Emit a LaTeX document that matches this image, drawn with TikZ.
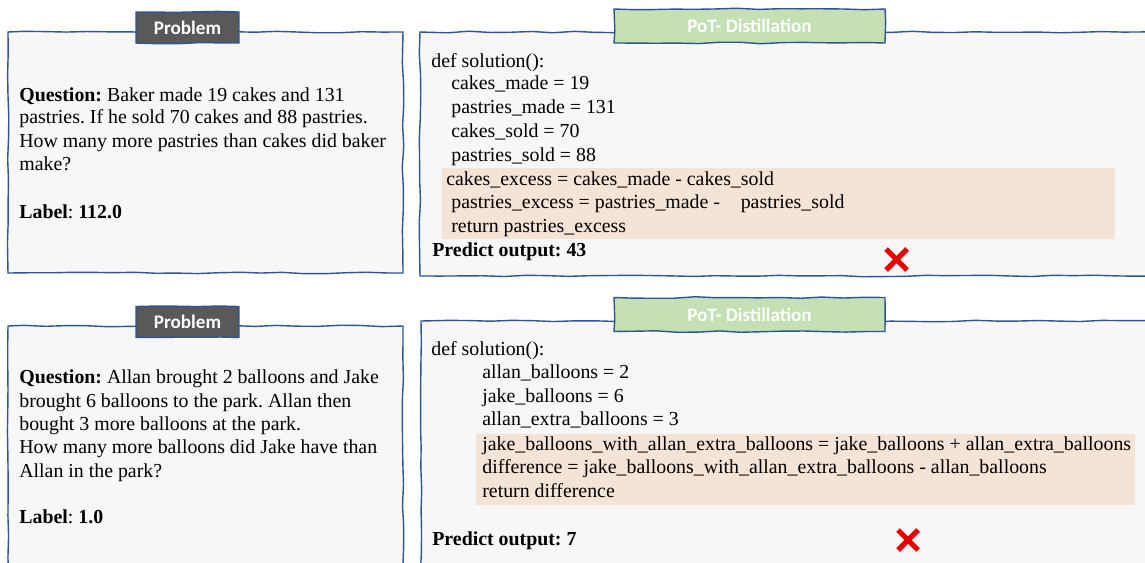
\documentclass[tikz,border=0pt]{standalone}
\usepackage{fontspec}
\setmainfont{Liberation Serif}
\newfontfamily\tabfont{Carlito}
\usetikzlibrary{decorations.pathmorphing}
\frenchspacing

\definecolor{frameblue}{HTML}{2F5597}
\definecolor{panelgray}{HTML}{F7F7F7}
\definecolor{tabgray}{HTML}{595959}
\definecolor{tabgreen}{HTML}{C5E0B4}
\definecolor{codehl}{HTML}{F4E3D7}
\definecolor{wrongred}{HTML}{E60000}

\tikzset{
  sketch/.style={decorate, decoration={random steps, segment length=12pt, amplitude=0.45pt}},
  panel/.style={sketch, fill=panelgray, draw=frameblue, line width=0.8pt},
  tab/.style={sketch, draw=frameblue, line width=0.8pt, text=white,
    font=\tabfont\bfseries\fontsize{10.9}{12}\selectfont, inner sep=0pt},
  probtab/.style={tab, fill=tabgray, minimum width=2.06cm, minimum height=0.62cm},
  pottab/.style={tab, fill=tabgreen, minimum width=5.42cm, minimum height=0.68cm},
  txt/.style={anchor=base west, inner sep=0pt, font=\fontsize{11.3}{13}\selectfont},
  hl/.style={fill=codehl},
  cross/.style={draw=wrongred, line width=3pt},
}

\begin{document}
\begin{tikzpicture}[x=0.02cm, y=-0.02cm]
\pgfmathsetseed{7}
\clip (0,0) rectangle (1145,562);

% first example
\filldraw[panel] (8,32) rectangle (403,273);
\filldraw[panel] (420,32) rectangle (1165,276);
\node[probtab] (tab1) at (187.5,27.5) {Problem};
\node[pottab] (pot1) at (749.5,26) {PoT- Distillation};

\node[txt] (q1a) at (19,101) {\textbf{Question:} Baker made 19 cakes and 131};
\node[txt] (q1b) at (19,123) {pastries. If he sold 70 cakes and 88 pastries.};
\node[txt] (q1c) at (19,147) {How many more pastries than cakes did baker};
\node[txt] (q1d) at (19,170) {make?};
\node[txt] (lab1) at (19,218) {\textbf{Label}: \textbf{112.0}};

\fill[hl] (442,168) rectangle (1115,239);
\node[txt] (c1a) at (431,67) {def solution():};
\node[txt] (c1b) at (451,89) {cakes\_made = 19};
\node[txt] (c1c) at (451,113) {pastries\_made = 131};
\node[txt] (c1d) at (451,137) {cakes\_sold = 70};
\node[txt] (c1e) at (451,161) {pastries\_sold = 88};
\node[txt] (c1f) at (446,185) {cakes\_excess = cakes\_made - cakes\_sold};
\node[txt] (c1g) at (451,208) {pastries\_excess = pastries\_made - \hspace{9pt}pastries\_sold};
\node[txt] (c1h) at (451,232) {return pastries\_excess};
\node[txt] (out1) at (432,256) {\textbf{Predict output: 43}};
\draw[cross] (886,249) -- (907,270);
\draw[cross] (907,249) -- (886,270);

% second example
\filldraw[panel] (8,326) rectangle (403,590);
\filldraw[panel] (421,321) rectangle (1165,590);
\node[probtab] (tab2) at (187.5,322) {Problem};
\node[pottab] (pot2) at (749.5,314.5) {PoT- Distillation};

\node[txt] (q2a) at (19,383) {\textbf{Question:} Allan brought 2 balloons and Jake};
\node[txt] (q2b) at (19,407) {brought 6 balloons to the park. Allan then};
\node[txt] (q2c) at (19,430) {bought 3 more balloons at the park.};
\node[txt] (q2d) at (19,453) {How many more balloons did Jake have than};
\node[txt] (q2e) at (19,477) {Allan in the park?};
\node[txt] (lab2) at (19,523) {\textbf{Label}: \textbf{1.0}};

\fill[hl] (476,434) rectangle (1135,505);
\node[txt] (c2a) at (431,355) {def solution():};
\node[txt] (c2b) at (482,378) {allan\_balloons = 2};
\node[txt] (c2c) at (482,402) {jake\_balloons = 6};
\node[txt] (c2d) at (482,425) {allan\_extra\_balloons = 3};
\node[txt] (c2e) at (482,450) {jake\_balloons\_with\_allan\_extra\_balloons = jake\_balloons + allan\_extra\_balloons};
\node[txt] (c2f) at (482,473) {difference = jake\_balloons\_with\_allan\_extra\_balloons - allan\_balloons};
\node[txt] (c2g) at (482,497) {return difference};
\node[txt] (out2) at (432,545) {\textbf{Predict output: 7}};
\draw[cross] (898,530) -- (918,550);
\draw[cross] (918,530) -- (898,550);
\end{tikzpicture}
\end{document}
